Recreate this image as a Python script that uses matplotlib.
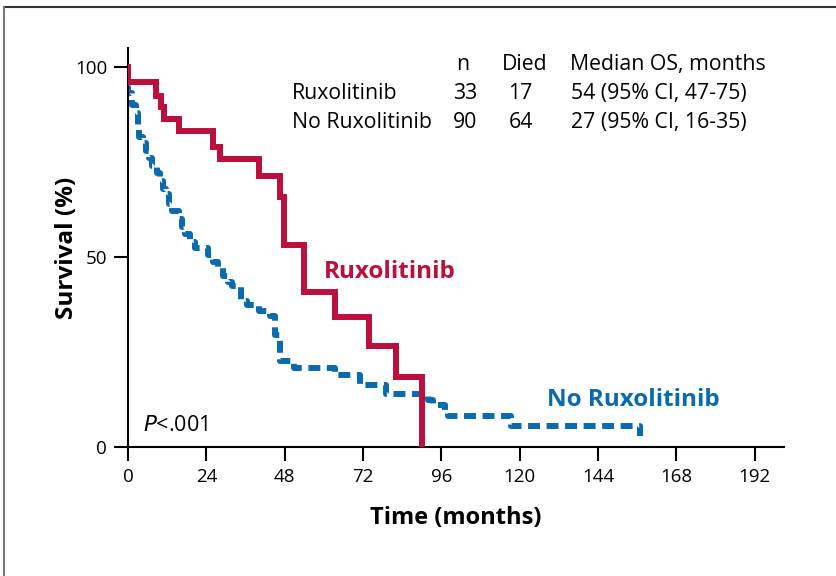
import matplotlib as mpl

mpl.use("Agg")
import matplotlib.pyplot as plt
from matplotlib.lines import Line2D

plt.rcParams["font.family"] = ["Open Sans", "DejaVu Sans"]

RED = "#bb0f3e"
BLUE = "#0a6aae"

# Kaplan-Meier steps: time (months) at which survival (%) drops to the given value
rux_t = [0, 0, 8.5, 10.2, 11.1, 15.6, 26.1, 28.2, 40.0, 46.5, 47.8, 54.0, 63.4, 73.8, 82.0, 90.0]
rux_s = [100, 96.0, 92.5, 89.5, 86.2, 83.1, 79.0, 75.9, 71.2, 65.8, 53.1, 40.8, 34.2, 26.5, 18.3, 0]

norux_t = [0, 0, 1.2, 2.5, 3.0, 3.5, 4.5, 5.5, 6.5, 7.5, 9.0, 9.8, 10.6, 11.5, 12.5, 13.5,
           15.5, 16.5, 17.5, 19.0, 20.5, 24.5, 26.0, 27.5, 29.0, 30.5, 32.0, 34.5, 36.5, 40.0,
           43.5, 45.0, 46.5, 51.0, 63.5, 71.0, 79.0, 92.0, 93.5, 97.0, 98.0, 117.5, 157.0]
norux_s = [100, 93.3, 90.0, 87.8, 84.5, 81.5, 80.0, 78.0, 76.0, 74.0, 72.0, 70.0, 68.0, 66.5, 64.0, 62.0,
           60.0, 58.0, 56.0, 54.0, 52.3, 50.5, 48.6, 47.0, 45.0, 43.5, 42.2, 38.3, 37.3, 35.8,
           34.3, 29.5, 22.5, 20.8, 18.8, 16.2, 13.8, 12.3, 11.0, 9.5, 8.0, 5.5, 2.8]

table_header = ["n", "Died", "Median OS, months"]
table_rows = [
    ["Ruxolitinib", "33", "17", "54 (95% CI, 47-75)"],
    ["No Ruxolitinib", "90", "64", "27 (95% CI, 16-35)"],
]

xticks = [0, 24, 48, 72, 96, 120, 144, 168, 192]
yticks = [0, 50, 100]

fig = plt.figure(figsize=(8.36, 5.76), dpi=100)
ax = fig.add_axes([0.1531, 0.2245, 0.7847, 0.692])

# panel border (top and left edges only)
fig.add_artist(Line2D([0.005, 1.0], [0.988, 0.988], transform=fig.transFigure, color="#333333", lw=1.5))
fig.add_artist(Line2D([0.005, 0.005], [0.0, 0.988], transform=fig.transFigure, color="#777777", lw=1.5))

ax.step(norux_t, norux_s, where="post", color=BLUE, lw=4.3,
        linestyle=(0, (2.0, 1.1)), solid_capstyle="butt", zorder=2)
ax.step(rux_t, rux_s, where="post", color=RED, lw=4.3, solid_joinstyle="miter", zorder=3)

ax.set_xlim(0, 201)
ax.set_ylim(0, 105)
ax.set_xticks(xticks)
ax.set_yticks(yticks)
ax.tick_params(labelsize=13.5, width=1.5, length=10, pad=5)
for side in ("top", "right"):
    ax.spines[side].set_visible(False)
for side in ("left", "bottom"):
    ax.spines[side].set_linewidth(1.5)

ax.set_xlabel("Time (months)", fontsize=17, fontweight="bold", labelpad=15)
ax.set_ylabel("Survival (%)", fontsize=17.5, fontweight="bold", labelpad=-3)

ax.text(60.0, 46, "Ruxolitinib", color=RED, fontsize=17.5, fontweight="bold", va="center")
ax.text(128.5, 12.3, "No Ruxolitinib", color=BLUE, fontsize=17.5, fontweight="bold", va="center")
ax.text(4.5, 5.5, "$\\it{P}$<.001", fontsize=15.5, va="center")

# summary table
fs = 15.3
col_x = [102.5, 121.5, 165.5]
for x, label in zip(col_x, table_header):
    ax.text(x, 100.7, label, fontsize=fs, ha="center", va="center")
for row, y in zip(table_rows, [93.1, 85.4]):
    ax.text(50.2, y, row[0], fontsize=fs, ha="left", va="center")
    ax.text(col_x[0] + 0.8, y, row[1], fontsize=fs, ha="center", va="center")
    ax.text(col_x[1] - 1.2, y, row[2], fontsize=fs, ha="center", va="center")
    ax.text(col_x[2] - 3.0, y, row[3], fontsize=fs, ha="center", va="center")

fig.savefig("out.png", dpi=100)
